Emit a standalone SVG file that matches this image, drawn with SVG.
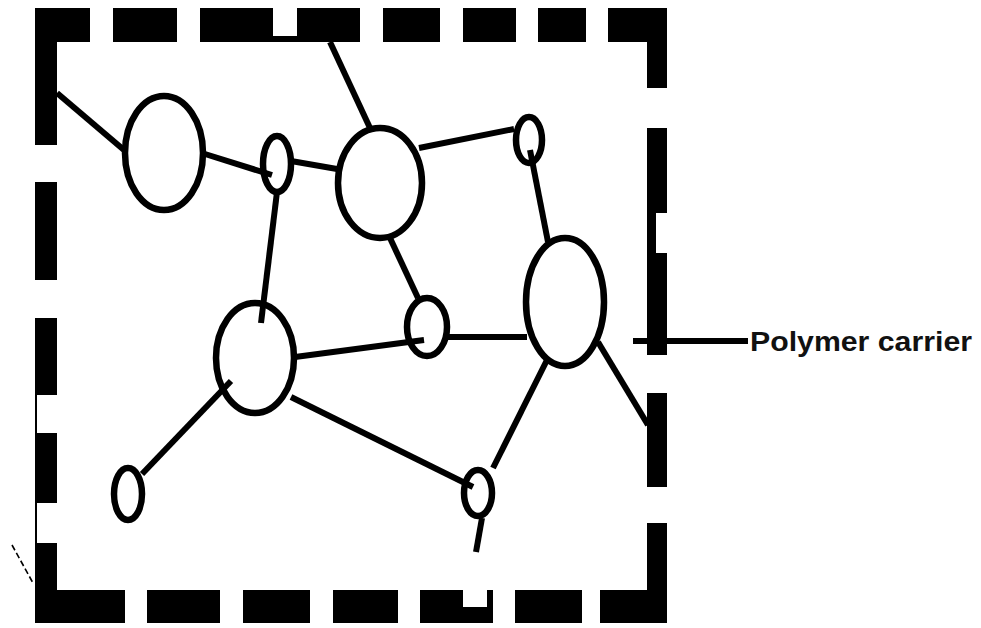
<svg xmlns="http://www.w3.org/2000/svg" width="981" height="628" viewBox="0 0 981 628">
  <style>
    .bar { fill: #000; }
    .node { fill: none; stroke: #000; stroke-width: 6.5; }
    .link { stroke: #000; stroke-width: 6; stroke-linecap: butt; fill: none; }
    .thin { stroke: #000; stroke-width: 2; fill: none; }
    .label { font-family: "Liberation Sans", Arial, sans-serif; font-weight: bold; font-size: 27px; fill: #111; }
  </style>
  <rect width="981" height="628" fill="#fff"/>

  <!-- dashed outer frame of the polymer carrier -->
  <g id="frame">
    <!-- top edge -->
    <rect class="bar" x="35" y="8" width="55" height="34"/>
    <rect class="bar" x="113" y="8" width="64" height="34"/>
    <rect class="bar" x="200" y="8" width="73" height="34"/>
    <rect class="bar" x="273" y="36" width="24" height="6"/>
    <rect class="bar" x="297" y="8" width="63" height="34"/>
    <rect class="bar" x="383" y="8" width="57" height="34"/>
    <rect class="bar" x="463" y="8" width="53" height="34"/>
    <rect class="bar" x="538" y="8" width="48" height="34"/>
    <rect class="bar" x="608" y="8" width="59" height="34"/>
    <!-- left edge -->
    <rect class="bar" x="35" y="8" width="22" height="137"/>
    <rect class="bar" x="35" y="182" width="22" height="98"/>
    <rect class="bar" x="35" y="318" width="22" height="77"/>
    <rect class="bar" x="35" y="433" width="22" height="70"/>
    <rect class="bar" x="35" y="543" width="22" height="80"/>
    <line class="thin" x1="36" y1="395" x2="36" y2="584"/>
    <line x1="12" y1="545" x2="33" y2="583" stroke="#000" stroke-width="1.6" stroke-dasharray="6 3"/>
    <!-- right edge -->
    <rect class="bar" x="647" y="8" width="20" height="80"/>
    <rect class="bar" x="647" y="128" width="20" height="85"/>
    <rect class="bar" x="647" y="213" width="9" height="40"/>
    <rect class="bar" x="647" y="253" width="20" height="102"/>
    <rect class="bar" x="647" y="393" width="20" height="94"/>
    <rect class="bar" x="647" y="523" width="20" height="100"/>
    <!-- bottom edge -->
    <rect class="bar" x="35" y="590" width="90" height="33"/>
    <rect class="bar" x="147" y="590" width="73" height="33"/>
    <rect class="bar" x="243" y="590" width="67" height="33"/>
    <rect class="bar" x="333" y="590" width="65" height="33"/>
    <rect class="bar" x="420" y="590" width="43" height="33"/>
    <rect class="bar" x="463" y="607" width="24" height="16"/>
    <rect class="bar" x="487" y="590" width="6" height="33"/>
    <rect class="bar" x="515" y="590" width="67" height="33"/>
    <rect class="bar" x="600" y="590" width="67" height="33"/>
  </g>

  <!-- chain segments between the nodes -->
  <g id="connectors">
    <line class="link" x1="57" y1="93" x2="124" y2="150"/>
    <line class="link" x1="205" y1="154" x2="272" y2="175"/>
    <line class="link" x1="291" y1="161" x2="337" y2="169"/>
    <line class="link" x1="330" y1="42" x2="370" y2="128"/>
    <line class="link" x1="419" y1="148" x2="514" y2="129"/>
    <line class="link" x1="277" y1="192" x2="261" y2="323"/>
    <line class="link" x1="390" y1="238" x2="418" y2="298"/>
    <line class="link" x1="530" y1="150" x2="548" y2="242"/>
    <line class="link" x1="295" y1="357" x2="424" y2="340"/>
    <line class="link" x1="446" y1="337" x2="527" y2="337" stroke-width="8"/>
    <line class="link" x1="547" y1="360" x2="493" y2="468"/>
    <line class="link" x1="598" y1="342" x2="648" y2="425"/>
    <line class="link" x1="291" y1="397" x2="473" y2="487"/>
    <line class="link" x1="231" y1="381" x2="142" y2="474"/>
    <line class="link" x1="482" y1="518" x2="476" y2="552"/>
    <line class="link" x1="633" y1="341" x2="748" y2="341" stroke-width="5"/>
  </g>

  <!-- carrier nodes -->
  <g id="node-a"><ellipse class="node" cx="164" cy="153" rx="39" ry="57"/></g>
  <g id="node-b"><ellipse class="node" cx="277" cy="164" rx="14" ry="28"/></g>
  <g id="node-c"><ellipse class="node" cx="380" cy="183" rx="42" ry="55"/></g>
  <g id="node-d"><ellipse class="node" cx="529" cy="140" rx="13" ry="23"/></g>
  <g id="node-e"><ellipse class="node" cx="565" cy="302" rx="39" ry="64"/></g>
  <g id="node-f"><ellipse class="node" cx="427" cy="327" rx="20" ry="29"/></g>
  <g id="node-g"><ellipse class="node" cx="255" cy="358" rx="39" ry="55"/></g>
  <g id="node-h"><ellipse class="node" cx="128" cy="494" rx="14" ry="26"/></g>
  <g id="node-i"><ellipse class="node" cx="478" cy="493" rx="14" ry="23"/></g>

  <g id="label">
    <text class="label" x="750" y="351" textLength="222" lengthAdjust="spacingAndGlyphs">Polymer carrier</text>
  </g>
</svg>
